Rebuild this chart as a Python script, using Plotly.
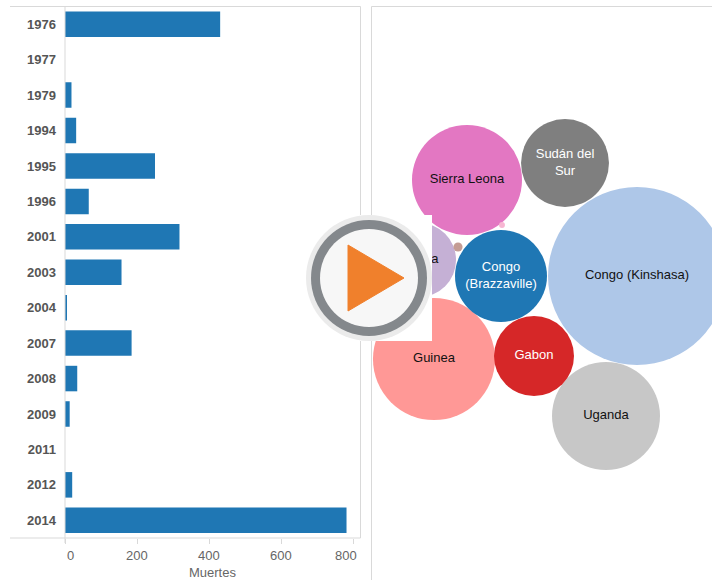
import plotly.graph_objects as go

W, H = 712, 580

years = ["1976","1977","1979","1994","1995","1996","2001","2003","2004","2007","2008","2009","2011","2012","2014"]
muertes = [431,0,18,31,250,66,318,157,4,185,34,13,0,20,782]

paises = ["Congo (Kinshasa)","Guinea","Sierra Leona","Uganda","Congo<br>(Brazzaville)","Sudán del<br>Sur","Gabon","Liberia","Etiopía","Sudáfrica"]
paises_x = [637,434,467,606,501,565,534,419,458,502]
paises_y = [276,359,180,416,276,163,356,260,247,225]
paises_muertes = [1000,470,382,368,267,244,202,173,2.6,1.1]
paises_color = ["#aec7e8","#ff9896","#e377c2","#c7c7c7","#1f77b4","#7f7f7f","#d62728","#c5b0d5","#c49c94","#f7b6d2"]
paises_texto = ["#111","#111","#111","#111","#fff","#fff","#fff","#111","#111","#111"]
etiquetas = [p if m > 10 else "" for p, m in zip(paises, paises_muertes)]

tick_vals = [0,200,400,600,800]
tick_text = ["0","200","400","600","800"]
tick_shift = [5,0,0,0,-7]

FONT = "Liberation Sans, Arial, sans-serif"
LINE = "#d9d9d9"

def px(x): return x / W
def py(y): return 1 - y / H

fig = go.Figure()
fig.add_trace(go.Bar(y=years, x=muertes, orientation="h", marker=dict(color="#1f77b4", line_width=0),
                     xaxis="x", yaxis="y", showlegend=False))
fig.add_trace(go.Scatter(x=paises_x, y=paises_y, mode="markers+text", text=etiquetas,
                         textposition="middle center",
                         textfont=dict(family=FONT, size=13, color=paises_texto),
                         marker=dict(size=paises_muertes, sizemode="area", sizeref=2000/178**2,
                                     color=paises_color, opacity=1, line_width=0),
                         xaxis="x2", yaxis="y2", showlegend=False))

def line(x0, y0, x1, y1, color=LINE, width=1):
    return dict(type="line", xref="paper", yref="paper", x0=px(x0), y0=py(y0), x1=px(x1), y1=py(y1),
                line=dict(color=color, width=width), layer="above")

def circle(cx, cy, r, color):
    return dict(type="circle", xref="paper", yref="paper", x0=px(cx-r), x1=px(cx+r), y0=py(cy+r), y1=py(cy-r),
                fillcolor=color, line_width=0, layer="above")

shapes = [
    line(10, 6.5, 360.5, 6.5), line(10, 538, 360.5, 538), line(360.5, 6.5, 360.5, 538),
    line(371.5, 6.5, 712, 6.5), line(371.5, 6.5, 371.5, 580),
    line(65, 6.5, 65, 543),
    dict(type="rect", xref="paper", yref="paper", x0=px(306), x1=px(432), y0=py(341), y1=py(215),
         fillcolor="#ffffff", line_width=0, layer="above"),
    circle(369, 278, 63, "#ebebeb"),
    circle(369, 278, 58, "#84888c"),
    circle(369, 278, 49, "#f7f7f7"),
    dict(type="path", xref="paper", yref="paper",
         path=f"M {px(348)} {py(245)} L {px(404)} {py(278)} L {px(348)} {py(311)} Z",
         fillcolor="#f0802c", line=dict(color="#f0802c", width=1), layer="above"),
]

annotations = [
    dict(x=v, y=py(555), xref="x", yref="paper", text=t, showarrow=False, xshift=s,
         xanchor="center", yanchor="middle", font=dict(size=13, color="#666"))
    for v, t, s in zip(tick_vals, tick_text, tick_shift)
]
annotations.append(dict(x=px(212), y=py(572), xref="paper", yref="paper", text="Muertes", showarrow=False,
                        xanchor="center", yanchor="middle", font=dict(size=13, color="#666")))

fig.update_layout(
    width=W, height=H, margin=dict(l=0, r=0, t=0, b=0), paper_bgcolor="#fff", plot_bgcolor="#fff",
    font=dict(family=FONT, size=12, color="#666"), bargap=0.28, shapes=shapes, annotations=annotations,
    xaxis=dict(domain=[px(65), px(360)], range=[0, 295/0.36], anchor="y", showgrid=False, zeroline=False,
               tickvals=tick_vals, ticks="outside", ticklen=5, tickcolor=LINE, showline=False,
               showticklabels=False),
    yaxis=dict(domain=[py(538), py(6.5)], type="category", categoryorder="array", categoryarray=years,
               autorange="reversed", anchor="x", showgrid=False, zeroline=False, ticks="", showline=False,
               ticklabelstandoff=8, tickfont=dict(size=13, color="#555", weight="bold")),
    xaxis2=dict(domain=[px(371.5), 1], range=[371.5, 712], anchor="y2", visible=False),
    yaxis2=dict(domain=[0, py(6.5)], range=[580, 6.5], anchor="x2", visible=False),
)

fig.write_html("out.html", config=dict(displayModeBar=False),
               post_script="document.body.style.margin='0';document.body.style.overflow='hidden';")
